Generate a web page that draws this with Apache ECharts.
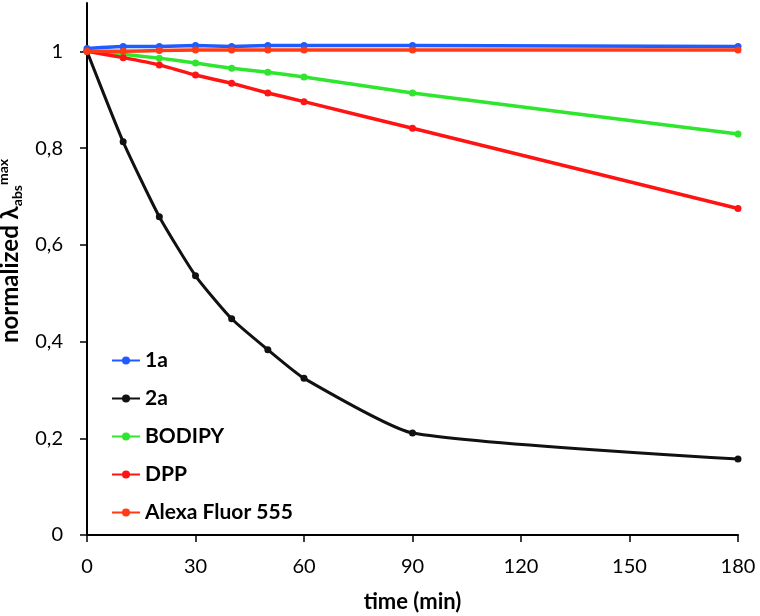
<!DOCTYPE html>
<html><head><meta charset="utf-8">
<script src="https://cdn.jsdelivr.net/npm/echarts@6/dist/echarts.min.js"></script>
<style>html,body{margin:0;padding:0;background:#fff}#c{width:760px;height:616px}</style>
</head><body><div id="c"></div>
<script>
const times = [0, 10, 20, 30, 40, 50, 60, 90, 180];
const s1a = [1.006, 1.010, 1.010, 1.012, 1.010, 1.012, 1.012, 1.012, 1.010];
const s2a = [1.0, 0.813, 0.658, 0.536, 0.447, 0.383, 0.324, 0.211, 0.157];
const sBodipy = [1.0, 0.994, 0.986, 0.976, 0.965, 0.957, 0.947, 0.914, 0.829];
const sDpp = [1.0, 0.987, 0.972, 0.951, 0.934, 0.914, 0.896, 0.841, 0.675];
const sAlexa = [1.0, 1.0, 1.002, 1.003, 1.003, 1.003, 1.003, 1.003, 1.003];
const names = ['1a', '2a', 'BODIPY', 'DPP', 'Alexa Fluor 555'];
const colors = ['#1f5cff', '#111111', '#2ee62e', '#ff1414', '#ff3a14'];
const yTicks = [0, 0.2, 0.4, 0.6, 0.8, 1.0];
const xTicks = [0, 30, 60, 90, 120, 150, 180];

const allSeries = [s1a, s2a, sBodipy, sDpp, sAlexa];
const font = 'Lato, "Open Sans", sans-serif';
const chart = echarts.init(document.getElementById('c'), null, {renderer: 'canvas'});
chart.setOption({
  animation: false,
  backgroundColor: '#fff',
  grid: {left: 87, right: 22, top: 3, bottom: 81, containLabel: false, outerBoundsMode: 'none'},
  legend: {
    orient: 'vertical', left: 106, top: 345, itemGap: 17,
    itemWidth: 28, itemHeight: 10,
    textStyle: {fontFamily: font, fontWeight: 'bold', fontSize: 21, color: '#000'},
    data: names
  },
  xAxis: {
    type: 'value', min: 0, max: 180, interval: 30,
    name: 'time (min)', nameLocation: 'middle', nameGap: 56,
    nameTextStyle: {fontFamily: font, fontWeight: 'bold', fontSize: 22, color: '#000'},
    axisLine: {lineStyle: {color: '#000', width: 2}},
    axisTick: {show: true, length: 7, lineStyle: {color: '#000', width: 1.5}, customValues: xTicks},
    axisLabel: {fontFamily: font, fontSize: 20, color: '#000', margin: 22, customValues: xTicks},
    splitLine: {show: false}
  },
  yAxis: {
    type: 'value', min: 0, max: 1.1, interval: 0.2,
    name: '{a|normalized λ}{b|abs}{c|max}', nameLocation: 'middle', nameGap: 58, nameRotate: 90,
    nameTextStyle: {
      fontFamily: font, fontWeight: 'bold', fontSize: 24, color: '#000', padding: [0, 0, 0, 36],
      rich: {
        a: {fontFamily: font, fontWeight: 'bold', fontSize: 24, color: '#000'},
        b: {fontFamily: font, fontWeight: 'bold', fontSize: 14, color: '#000', verticalAlign: 'bottom', padding: [14,0,0,0]},
        c: {fontFamily: font, fontWeight: 'bold', fontSize: 14, color: '#000', verticalAlign: 'top', padding: [0,0,14,0]}
      }
    },
    axisLine: {show: true, lineStyle: {color: '#000', width: 2}},
    axisTick: {show: true, length: 7, lineStyle: {color: '#000', width: 1.5}, customValues: yTicks},
    axisLabel: {
      fontFamily: font, fontSize: 20, color: '#000', margin: 24, customValues: yTicks,
      formatter: v => (Math.round(v * 10) / 10).toString().replace('.', ',')
    },
    splitLine: {show: false}
  },
  series: names.map((n, i) => ({
    name: n, type: 'line', smooth: i === 1 ? 0.18 : 0.1,
    data: times.map((t, j) => [t, allSeries[i][j]]),
    symbol: 'circle', symbolSize: 7,
    lineStyle: {color: colors[i], width: i === 1 ? 3 : 3.5},
    itemStyle: {color: colors[i]},
    z: i === 4 ? 5 : (i === 0 ? 4 : 3)
  }))
});
</script></body></html>
